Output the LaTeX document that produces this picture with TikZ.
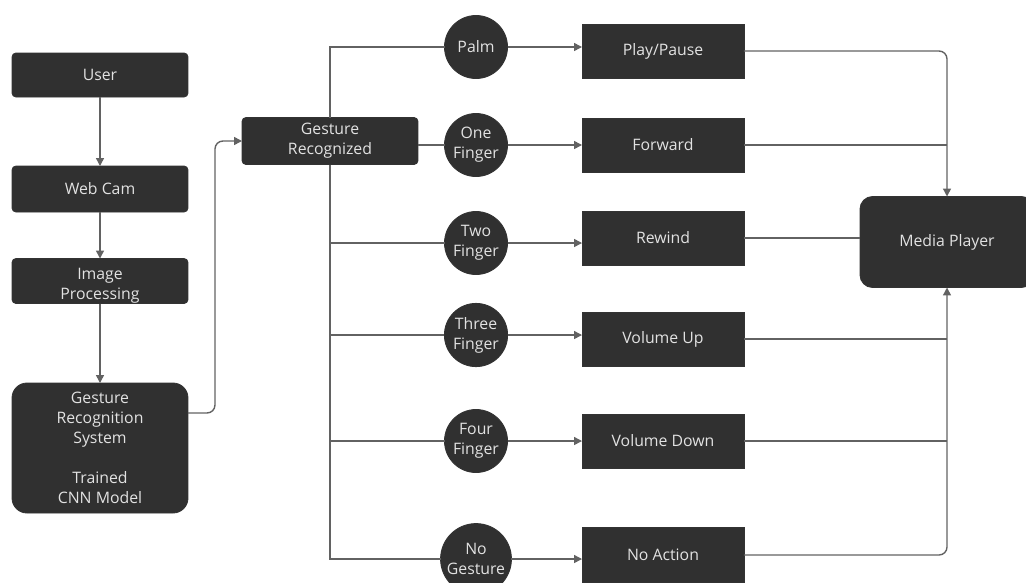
\documentclass[tikz,border=0pt]{standalone}
\usepackage{fontspec}
\setmainfont{Open Sans}
\usetikzlibrary{arrows.meta}
\definecolor{boxfill}{HTML}{303030}
\definecolor{boxtext}{HTML}{E2E2E2}
\definecolor{wire}{HTML}{626262}
\begin{document}
\begin{tikzpicture}[x=0.02cm, y=-0.02cm,
  every node/.style={font=\fontsize{9}{11.4}\selectfont, text=boxtext, fill=boxfill, draw=black!80, line width=0.5pt, align=center, inner sep=1pt, outer sep=0pt},
  blk/.style={rectangle, rounded corners=0.08cm, minimum width=3.52cm, minimum height=0.88cm},
  act/.style={rectangle, minimum width=3.24cm, minimum height=1.08cm},
  ges/.style={circle, minimum size=1.26cm},
  line/.style={draw=wire, line width=0.8pt},
  arr/.style={line, -{Triangle[length=4.5pt,width=4.5pt]}}]
\useasboundingbox (0,0) rectangle (1026,582);

\node[blk] (user) at (100,75) {User};
\node[blk, minimum height=0.92cm] (cam) at (100,189) {Web Cam};
\node[blk, minimum height=0.9cm] (imgp) at (100,281) {\raisebox{-5pt}[0pt][0pt]{\begin{tabular}{@{}c@{}}Image\\Processing\end{tabular}}};
\node[blk, rounded corners=0.3cm, minimum height=2.6cm] (grs) at (100,448) {Gesture\\Recognition\\System\\[11.4pt]Trained\\CNN Model};
\node[blk, minimum height=0.94cm] (gr) at (330,141) {Gesture\\Recognized};

\node[ges] (palm) at (476,47) {Palm};
\node[ges] (one) at (476,145) {One\\Finger};
\node[ges] (two) at (476,243) {Two\\Finger};
\node[ges] (three) at (476,335) {Three\\Finger};
\node[ges] (four) at (476,441) {Four\\Finger};
\node[ges] (nog) at (476,559) {No\\Gesture};

\node[act] (pp) at (663,51) {Play/Pause};
\node[act] (fwd) at (663,145) {Forward};
\node[act] (rew) at (663,238) {Rewind};
\node[act] (volup) at (663,339) {Volume Up};
\node[act] (voldn) at (663,441) {Volume Down};
\node[act, minimum height=1.1cm] (noact) at (663,555) {No Action};

\node[rectangle, rounded corners=0.25cm, minimum width=3.48cm, minimum height=1.82cm] (mp) at (947,242) {Media Player};

\draw[arr] (user) -- (cam);
\draw[arr] (cam) -- (imgp);
\draw[arr] (imgp) -- (grs);
\draw[arr, rounded corners=0.16cm] ([yshift=0.7cm]grs.east) -- ++(0.54cm,0) |- (gr.west);

\draw[line] (gr.north) |- (palm.west);
\draw[line] (one.west -| gr.east) -- (one.west);
\draw[line] (gr.south) |- (nog.west);
\draw[line] (gr.south |- two.west) -- (two.west);
\draw[line] (gr.south |- three.west) -- (three.west);
\draw[line] (gr.south |- four.west) -- (four.west);

\draw[arr] (palm.east) -- (palm.east -| pp.west);
\draw[arr] (one.east) -- (one.east -| fwd.west);
\draw[arr] (two.east) -- (two.east -| rew.west);
\draw[arr] (three.east) -- (three.east -| volup.west);
\draw[arr] (four.east) -- (four.east -| voldn.west);
\draw[arr] (nog.east) -- (nog.east -| noact.west);

\draw[arr, rounded corners=0.16cm] (pp.east) -| (mp.north);
\draw[line] (fwd.east) -- (fwd.east -| mp.north);
\draw[line] (rew.east) -- (rew.east -| mp.west);
\draw[line] (volup.east) -- (volup.east -| mp.south);
\draw[line] (voldn.east) -- (voldn.east -| mp.south);
\draw[arr, rounded corners=0.16cm] (noact.east) -| (mp.south);
\end{tikzpicture}
\end{document}
